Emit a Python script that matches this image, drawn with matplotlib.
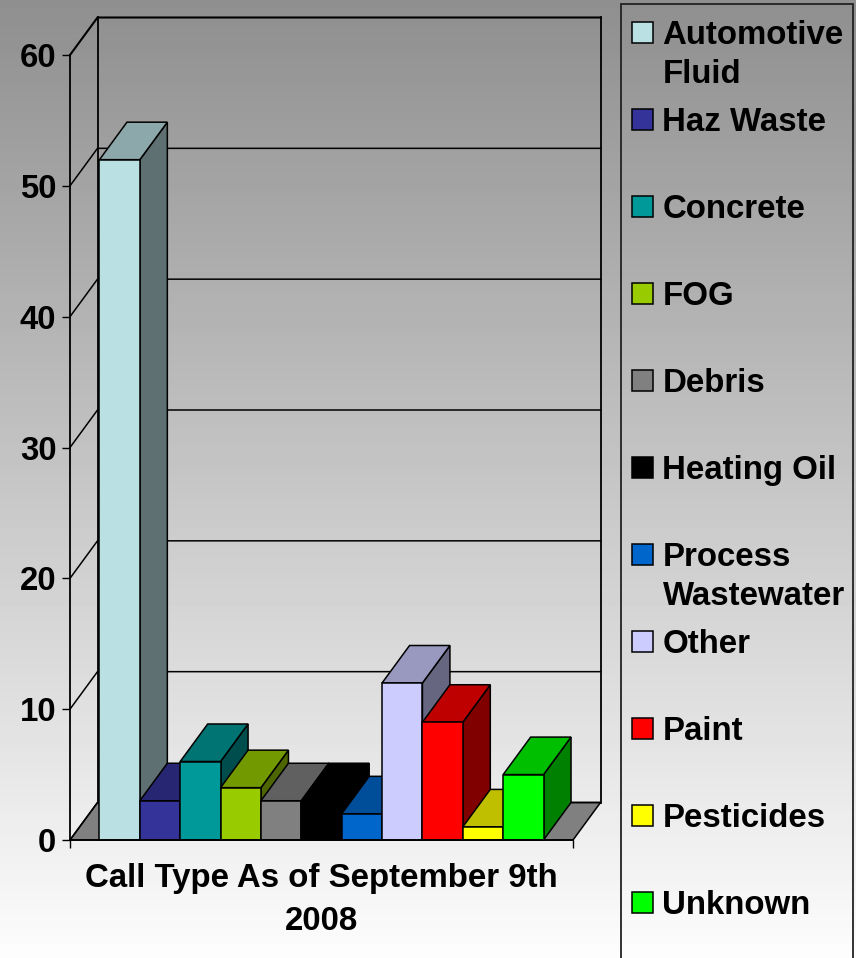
import numpy as np
import matplotlib
matplotlib.use("Agg")
import matplotlib.pyplot as plt
from matplotlib.patches import Polygon, Rectangle

plt.rcParams['font.family'] = ['Liberation Sans', 'DejaVu Sans']
plt.rcParams['font.weight'] = 'bold'

categories = ["Automotive\nFluid", "Haz Waste", "Concrete", "FOG", "Debris", "Heating Oil",
              "Process\nWastewater", "Other", "Paint", "Pesticides", "Unknown"]
values = [52, 3, 6, 4, 3, 3, 2, 12, 9, 1, 5]
colors = ["#BBE0E3", "#333399", "#009999", "#99CC00", "#808080", "#000000",
          "#0066CC", "#CCCCFF", "#FF0000", "#FFFF00", "#00FF00"]
y_ticks = [0, 10, 20, 30, 40, 50, 60]
x_title = "Call Type As of September 9th\n2008"

W, H = 856, 958
FS = 23.8
EDGE = 1.1


def shade(col, k):
    r, g, b = matplotlib.colors.to_rgb(col)
    return (r * k, g * k, b * k)


fig = plt.figure(figsize=(W / 100, H / 100), dpi=100)

# background gradient, light at the bottom
bg = fig.add_axes([0, 0, 1, 1], zorder=0)
bg.imshow(np.linspace(0.56, 0.99, 256).reshape(-1, 1), cmap='gray', vmin=0, vmax=1,
          aspect='auto', extent=[0, W, H, 0])
bg.set_axis_off()

ax = fig.add_axes([70 / W, (H - 840) / H, 503 / W, 785 / H], zorder=1)
ax.patch.set_visible(False)
gap = 0.73
xmin, xmax = -0.5 - gap, len(values) - 0.5 + gap
ax.set_xlim(xmin, xmax)
ax.set_ylim(0, 60)

# depth of the fake 3d box in data units
dx = 27.5 / (503 / (xmax - xmin))
dy = 37.5 / (785 / 60)

# floor
ax.add_patch(Polygon([(xmin, 0), (xmin + dx, dy), (xmax + dx, dy), (xmax, 0)],
                     closed=True, fc='#808080', ec='black', lw=EDGE, clip_on=False, zorder=1))
# walls
for t in y_ticks:
    ax.plot([xmin, xmin + dx, xmax + dx], [t, t + dy, t + dy], color='black',
            lw=1.5 if t == 60 else EDGE, clip_on=False, zorder=1.5, solid_joinstyle='miter')
ax.plot([xmin + dx, xmin + dx], [dy, 60 + dy], color='black', lw=1.3, clip_on=False, zorder=1.5)
ax.plot([xmax + dx, xmax + dx], [dy, 60 + dy], color='black', lw=1.3, clip_on=False, zorder=1.5)

# bars, painted left to right so the nearer ones overlap
for i, (v, c) in enumerate(zip(values, colors)):
    z = 3 + i
    l, r = i - 0.5, i + 0.5
    ax.add_patch(Polygon([(r, 0), (r + dx, dy), (r + dx, v + dy), (r, v)], closed=True,
                         fc=shade(c, 0.5), ec='black', lw=EDGE, clip_on=False, zorder=z))
    ax.add_patch(Polygon([(l, v), (l + dx, v + dy), (r + dx, v + dy), (r, v)], closed=True,
                         fc=shade(c, 0.75), ec='black', lw=EDGE, clip_on=False, zorder=z))
    ax.bar(i, v, width=1.0, color=c, edgecolor='black', linewidth=EDGE, zorder=z, clip_on=False)

for s in ['top', 'right']:
    ax.spines[s].set_visible(False)
for s in ['left', 'bottom']:
    ax.spines[s].set_linewidth(1.3)
    ax.spines[s].set_zorder(50)

ax.set_yticks(y_ticks)
ax.set_xticks([xmin, xmax])
ax.set_xticklabels(['', ''])
ax.tick_params(axis='both', length=5.8, width=1.0)
ax.tick_params(axis='y', labelsize=FS, pad=4.0)
ax.set_xlabel(x_title, fontsize=FS, fontweight='bold', linespacing=1.5, labelpad=7.5)

# legend box runs off the bottom of the figure
fig.add_artist(Rectangle((621 / W, -0.02), 232 / W, 1.02 - 4.5 / H, transform=fig.transFigure,
                         fc='none', ec='#222222', lw=1.3))
for i, (name, c) in enumerate(zip(categories, colors)):
    top = 22 + 87 * i
    fig.add_artist(Rectangle((632 / W, 1 - (top + 20.5) / H), 20.5 / W, 20.5 / H,
                             transform=fig.transFigure, fc=c, ec='black', lw=EDGE))
    for j, line in enumerate(name.split("\n")):
        fig.text(662.5 / W, 1 - (top + 22 + 39 * j) / H, line, fontsize=FS, fontweight='bold',
                 ha='left', va='baseline')

fig.savefig("out.png", dpi=100)
